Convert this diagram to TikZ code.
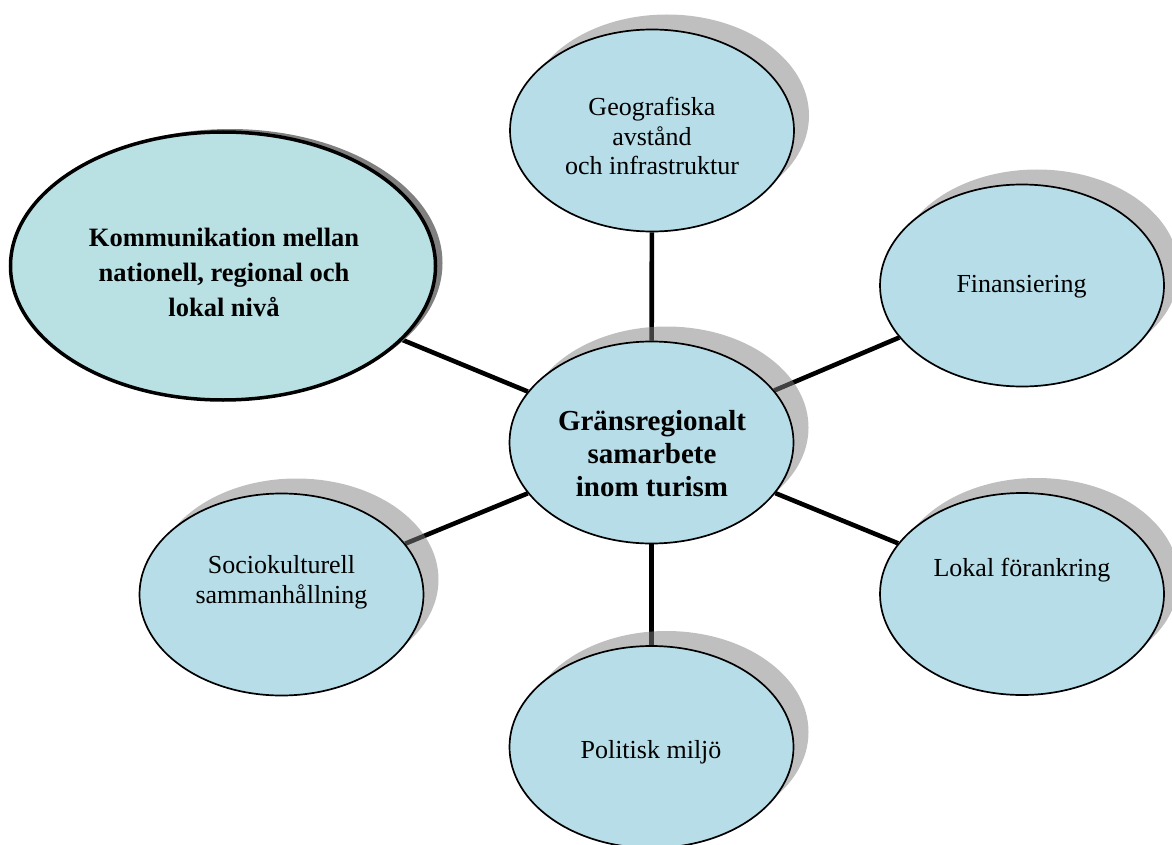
\documentclass[tikz,border=0pt]{standalone}
\usepackage{fontspec}
\setmainfont{Liberation Serif}
\usetikzlibrary{shapes.geometric,shadows,backgrounds}
\definecolor{bub}{HTML}{B7DDE8}
\definecolor{bubL}{HTML}{B9E0E3}
\begin{document}
\begin{tikzpicture}[x=1pt,y=-1pt,
  bubble/.style={ellipse, draw=black, line width=1.7pt, fill=bub,
    minimum width=284pt, minimum height=202pt, inner sep=0pt,
    drop shadow={shadow xshift=15pt, shadow yshift=15pt}},
  bigbubble/.style={ellipse, draw=black, line width=3.5pt, fill=bubL,
    minimum width=425pt, minimum height=268pt, inner sep=0pt,
    drop shadow={shadow xshift=7pt, shadow yshift=3pt, opacity=1, fill=black!50}},
  txt/.style={align=center, inner sep=0pt, font=\fontsize{26}{29.5}\selectfont},
  ctxt/.style={align=center, inner sep=0pt, font=\bfseries\fontsize{29}{33}\selectfont},
  ktxt/.style={align=center, inner sep=0pt, font=\bfseries\fontsize{26.5}{35}\selectfont},
  conn/.style={draw=black, line width=4.6pt}]
\useasboundingbox (0,0) rectangle (1172,845);

% ellipses
\node[bubble] (geo) at (652,130.5) {};
\node[bubble] (fin) at (1022,285.5) {};
\node[bubble] (lok) at (1022,594) {};
\node[bubble] (soc) at (281.5,594.5) {};
\node[bubble] (pol) at (651.5,747) {};
\node[bigbubble] (kom) at (223,266) {};
\node[bubble] (cen) at (651.5,442.5) {};

% connectors (behind shadows)
\begin{scope}[on background layer]
  \draw[conn] (cen) -- (geo);
  \draw[conn] (cen) -- (fin);
  \draw[conn] (cen) -- (lok);
  \draw[conn] (cen) -- (pol);
  \draw[conn] (cen) -- (soc);
  \draw[conn] (cen) -- (kom);
\end{scope}

% texts
\node[txt] (geo-t) at (652,136) {Geografiska\\avstånd\\och infrastruktur};
\node[txt] (fin-t) at (1021.5,287) {Finansiering};
\node[txt] (lok-t) at (1022,570) {Lokal förankring};
\node[txt] (soc-t) at (281.5,582.5) {Sociokulturell\\sammanhållning};
\node[txt] (pol-t) at (651,752) {Politisk miljö};
\node[ctxt] (cen-t) at (652,454) {Gränsregionalt\\samarbete\\inom turism};
\node[ktxt] (kom-t) at (224,272) {Kommunikation mellan\\nationell, regional och\\lokal nivå};
\end{tikzpicture}
\end{document}
